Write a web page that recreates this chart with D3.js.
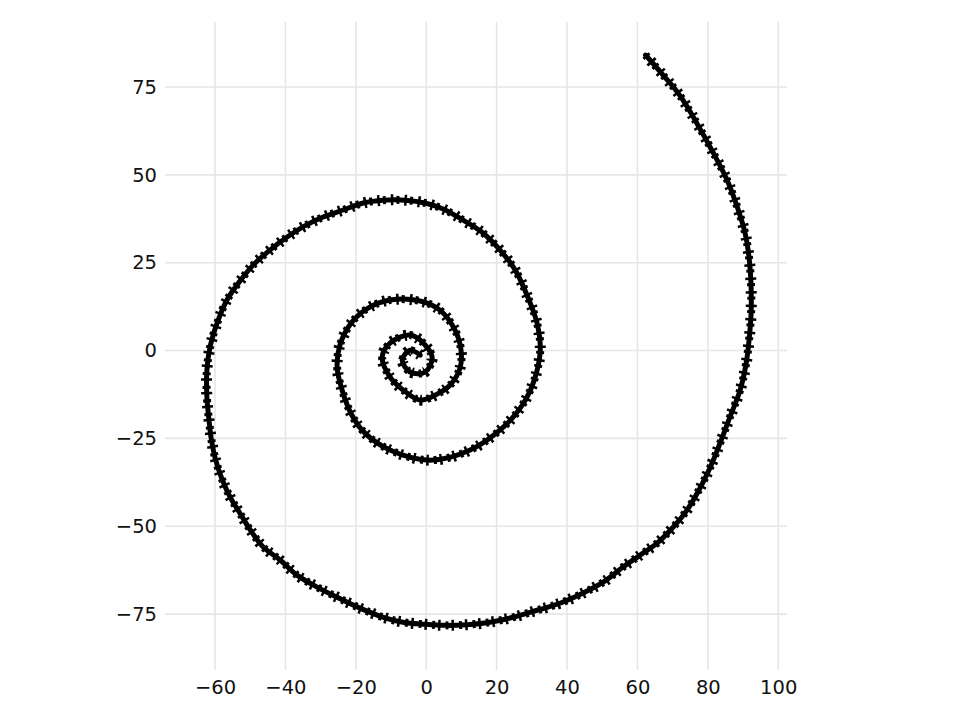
<!DOCTYPE html>
<html>
<head>
<meta charset="utf-8">
<script src="https://cdn.jsdelivr.net/npm/d3@7"></script>
<style>
  html, body { margin: 0; padding: 0; background: #fff; }
  svg { display: block; }
</style>
</head>
<body>
<svg id="chart" width="960" height="720"></svg>
<script>
// ---- data, from the centre outward ----
const spiralX = [
  -1.7, -4.6, -6.8, -4.6, -0.3, 1.7, -0.3, -4.6, -10.3, -12.5,
  -10.3, -6.6, -1.7, 3.1, 6.8, 9.6, 9.9, 8.2, 3.9, -1.7,
  -10.3, -16.5, -21.1, -24.5, -25.3, -23.9, -21.1, -17.4, -10.3, 1.1,
  12.5, 21.9, 27.3, 30.7, 32.4, 31.5, 29.0, 25.3, 21.0, 16.2,
  10.5, 4.8, -0.3, -6.0, -12.2, -17.9, -23.6, -29.3, -35.0, -39.5,
  -44.4, -48.9, -52.9, -56.6, -59.4, -61.4, -62.3, -62.3, -61.7, -61.0,
  -59.8, -58.0, -55.7, -52.9, -50.0, -46.3, -41.5, -36.7, -31.0, -25.3,
  -18.8, -12.2, -6.6, -0.3, 5.4, 11.6, 18.1, 24.7, 31.5, 38.0,
  44.6, 50.6, 55.9, 60.8, 65.6, 70.2, 74.1, 77.8, 80.7, 83.5,
  86.3, 89.2, 90.9, 91.8, 92.3, 92.3, 91.8, 90.6, 88.4, 85.5,
  81.6, 77.0, 72.2, 67.3, 62.3
];
const spiralY = [
  -1.3, 0.1, -2.7, -6.1, -6.1, -2.1, 1.6, 4.4, 2.1, -1.9,
  -7.5, -11.2, -14.1, -12.4, -9.8, -5.0, 0.1, 5.8, 11.5, 14.1,
  14.4, 12.1, 8.1, 1.6, -4.7, -11.2, -18.4, -23.5, -28.3, -31.2,
  -28.3, -21.8, -15.5, -8.4, 0.1, 7.8, 14.9, 22.9, 28.6, 33.4,
  37.1, 40.3, 42.0, 42.8, 42.8, 42.0, 40.0, 38.0, 35.2, 32.3,
  28.6, 24.6, 19.8, 14.4, 7.8, 1.0, -5.6, -13.2, -19.8, -25.5,
  -31.2, -36.6, -41.7, -46.3, -51.0, -55.9, -59.6, -63.9, -67.3, -70.2,
  -73.3, -75.9, -77.3, -77.9, -78.2, -78.0, -77.3, -75.9, -73.9, -71.9,
  -69.0, -65.7, -61.6, -58.2, -54.8, -50.2, -45.4, -39.1, -33.2, -26.3,
  -18.9, -11.2, -3.6, 3.8, 10.7, 18.1, 25.8, 33.4, 40.8, 48.5,
  56.2, 64.5, 72.4, 78.4, 84.1
];
const xTicks = [-60, -40, -20, 0, 20, 40, 60, 80, 100];
const yTicks = [-75, -50, -25, 0, 25, 50, 75];
const xLimits = [-74.2, 102.5];
const yLimits = [-90.9, 93.5];

// ---- layout ----
const panel = { left: 165, right: 787, top: 22, bottom: 670 };
const svg = d3.select("#chart");

const x = d3.scaleLinear().domain(xLimits).range([panel.left, panel.right]);
const y = d3.scaleLinear().domain(yLimits).range([panel.bottom, panel.top]);

// grid
const grid = svg.append("g").attr("class", "grid");
grid.selectAll("line.v").data(xTicks).join("line")
  .attr("class", "v")
  .attr("x1", d => x(d)).attr("x2", d => x(d))
  .attr("y1", panel.top).attr("y2", panel.bottom)
  .attr("stroke", "#e6e6e6").attr("stroke-width", 1.6);
grid.selectAll("line.h").data(yTicks).join("line")
  .attr("class", "h")
  .attr("y1", d => y(d)).attr("y2", d => y(d))
  .attr("x1", panel.left).attr("x2", panel.right)
  .attr("stroke", "#e6e6e6").attr("stroke-width", 1.6);

// axes (text only, no domain/ticks)
const fmt = d => (d < 0 ? "\u2212" + Math.abs(d) : String(d));
const xAxis = d3.axisBottom(x).tickValues(xTicks).tickFormat(fmt).tickSize(0).tickPadding(10);
const yAxis = d3.axisLeft(y).tickValues(yTicks).tickFormat(fmt).tickSize(0).tickPadding(8);

const gx = svg.append("g").attr("transform", `translate(0,${panel.bottom})`).call(xAxis);
const gy = svg.append("g").attr("transform", `translate(${panel.left},0)`).call(yAxis);
[gx, gy].forEach(g => {
  g.select(".domain").remove();
  g.selectAll("text")
    .attr("fill", "#111")
    .style("font-family", "'DejaVu Sans', sans-serif")
    .style("font-size", "19.5px");
});

// spiral
const pts = spiralX.map((v, i) => [v, spiralY[i]]);
const line = d3.line().x(d => x(d[0])).y(d => y(d[1])).curve(d3.curveCatmullRom.alpha(0.5));
const g = svg.append("g").attr("class", "spiral");
g.append("path").attr("d", line(pts))
  .attr("fill", "none").attr("stroke", "#000")
  .attr("stroke-width", 5).attr("stroke-linejoin", "round").attr("stroke-linecap", "round");
g.append("path").attr("d", line(pts))
  .attr("fill", "none").attr("stroke", "#000")
  .attr("stroke-width", 11).attr("stroke-dasharray", "2.5 11");
g.append("path").attr("d", line(pts))
  .attr("fill", "none").attr("stroke", "#000")
  .attr("stroke-width", 8).attr("stroke-dasharray", "3 10.5").attr("stroke-dashoffset", 6);
</script>
</body>
</html>
